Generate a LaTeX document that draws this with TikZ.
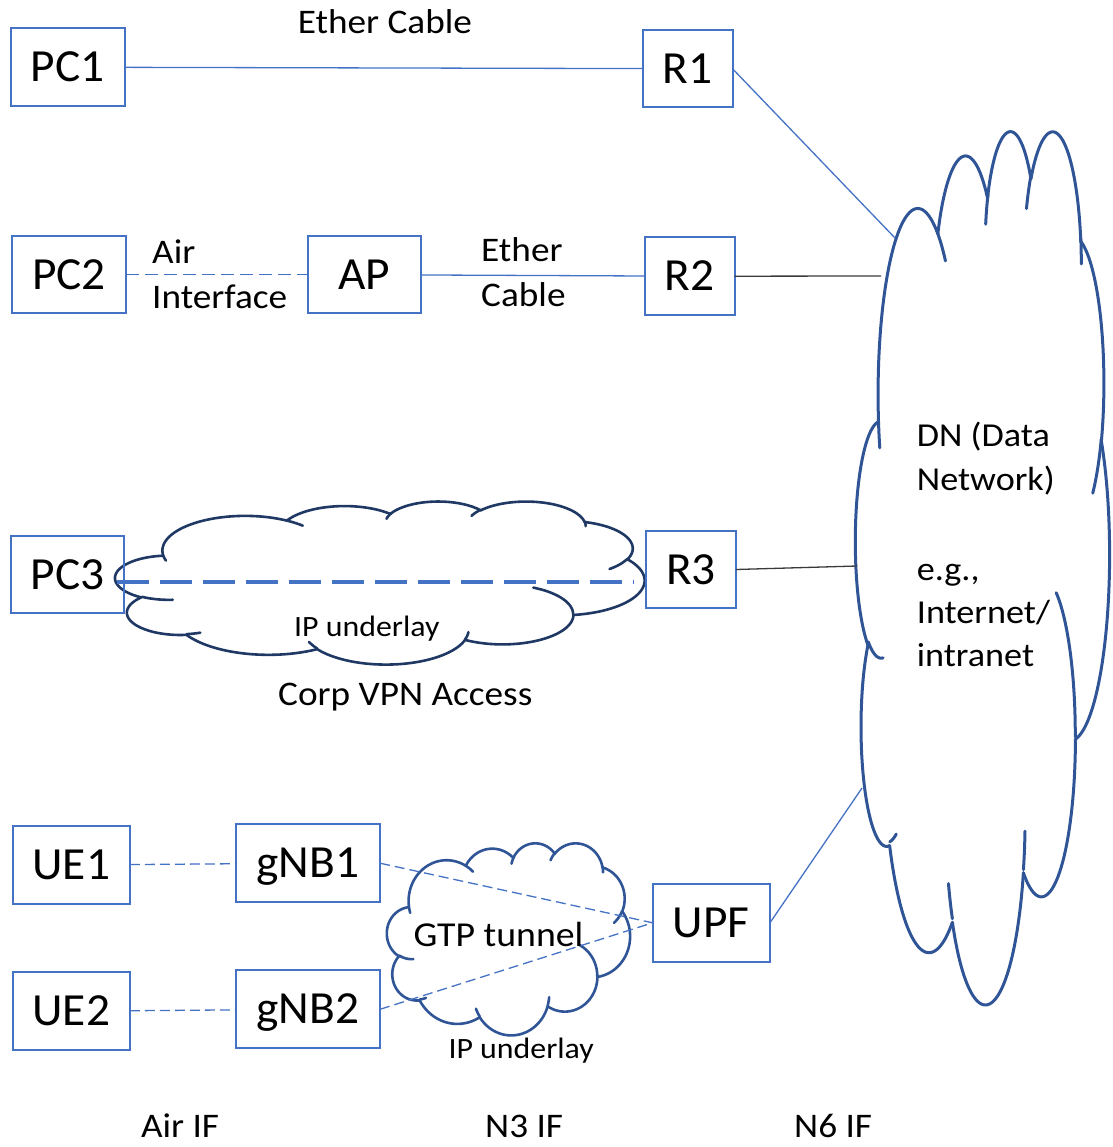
\documentclass[tikz,border=0pt]{standalone}
\usepackage{fontspec}
\setmainfont{Carlito}[FakeStretch=1.08]
\newfontfamily\boxfont{Carlito}[FakeStretch=1.03]
\definecolor{boxblue}{HTML}{4472C4}
\definecolor{cloudblue}{HTML}{2F5597}
\definecolor{navyblue}{HTML}{1F3864}
\definecolor{linegray}{HTML}{3A3A3A}

\newcommand\cldstart[2]{\xdef\cpx{#1}\xdef\cpy{#2}}
\newcommand\cldarc[4]{%
  \pgfmathsetmacro\cldts{atan2((#1)*sin(#3),(#2)*cos(#3))}%
  \pgfmathsetmacro\cldte{atan2((#1)*sin((#3)+(#4)),(#2)*cos((#3)+(#4)))}%
  \pgfmathsetmacro\cldd{\cldte-\cldts}%
  \pgfmathsetmacro\cldd{ifthenelse((#4)>0,ifthenelse(\cldd<0,\cldd+360,\cldd),ifthenelse(\cldd>0,\cldd-360,\cldd))}%
  \pgfmathsetmacro\cldcx{\cpx-(#1)*cos(\cldts)}%
  \pgfmathsetmacro\cldcy{\cpy-(#2)*sin(\cldts)}%
  \pgfmathsetmacro\cldtend{\cldts+\cldd}%
  \draw[cloudline] plot[domain=\cldts:\cldtend,samples=50,variable=\t]
     ({\cldcx+(#1)*cos(\t)},{\cldcy+(#2)*sin(\t)});%
  \pgfmathsetmacro\cldnx{\cldcx+(#1)*cos(\cldtend)}%
  \pgfmathsetmacro\cldny{\cldcy+(#2)*sin(\cldtend)}%
  \xdef\cpx{\cldnx}\xdef\cpy{\cldny}%
}
\newcommand\stdcloud{%
  \cldstart{39.00}{143.70}%
  \cldarc{67.53}{91.90}{-190.48748}{123.78053}%
  \cldarc{53.33}{72.67}{-144.10238}{89.94523}%
  \cldarc{43.65}{59.45}{-145.80792}{99.72302}%
  \cldarc{48.57}{65.95}{-130.98607}{117.24173}%
  \cldarc{53.33}{72.73}{-78.70888}{109.02692}%
  \cldarc{67.75}{92.20}{-46.26725}{130.269}%
  \cldarc{57.85}{78.67}{0.62502}{114.03333}%
  \cldarc{67.52}{92.15}{22.4516}{115.17255}%
  \cldarc{77.20}{105.43}{66.24263}{75.71102}%
  \cldarc{43.60}{59.18}{-274.94208}{146.73557}%
  \cldarc{43.45}{59.45}{-246.8285}{152.51885}%
  \cldstart{46.93}{261.77}\cldarc{43.45}{59.45}{86.742}{26.4295}%
  \cldstart{69.28}{348.99}\cldarc{43.60}{59.18}{73.61047}{11.44747}%
  \cldstart{164.78}{390.90}\cldarc{67.52}{92.15}{137.62415}{14.0811}%
  \cldstart{288.27}{347.51}\cldarc{67.52}{92.15}{6.45327}{15.99835}%
  \cldstart{341.29}{229.54}\cldarc{57.85}{78.67}{-70.29235}{70.91737}%
  \cldstart{417.98}{153.54}\cldarc{53.33}{72.73}{30.31803}{27.7515}%
  \cldstart{383.24}{54.26}\cldarc{48.57}{65.95}{-13.74433}{14.8589}%
  \cldstart{290.78}{39.52}\cldarc{48.57}{65.95}{-149.18145}{18.19537}%
  \cldstart{221.41}{47.20}\cldarc{43.65}{59.45}{-163.49427}{19.00285}%
  \cldstart{140.00}{51.92}\cldarc{67.53}{91.90}{-66.70695}{12.31935}%
  \cldstart{41.27}{157.89}\cldarc{67.53}{91.90}{157.65435}{11.85817}%
}

\begin{document}
\begin{tikzpicture}[x=1pt,y=-1pt,
  netbox/.style={draw=boxblue, line width=2pt, inner sep=0pt, outer sep=0pt,
    font=\boxfont\fontsize{46}{55}\selectfont, text height=29pt, text depth=0pt},
  lbl/.style={inner sep=0pt, anchor=base west, font=\fontsize{34.5}{41}\selectfont},
  conn/.style={draw=boxblue, line width=1.3pt},
  grayconn/.style={draw=linegray, line width=1.3pt},
  dashthin/.style={dash pattern=on 10pt off 5pt},
  vpnline/.style={draw=boxblue, line width=4pt, dash pattern=on 32pt off 11pt},
  cloudline/.style={draw=cloudblue, line width=3pt, line cap=round}]
\useasboundingbox (0,0) rectangle (1112,1147);

% clouds
\begin{scope}[shift={(855.5,128.8)}, xscale=254/432, yscale=873/432]
  \stdcloud
\end{scope}
\begin{scope}[shift={(115.4,501)}, xscale=529/432, yscale=163/432,
  cloudline/.style={draw=navyblue, line width=2.6pt, line cap=round}]
  \stdcloud
\end{scope}
\begin{scope}[shift={(387,842.7)}, xscale=243/432, yscale=192/432,
  cloudline/.style={draw=cloudblue, line width=2.6pt, line cap=round}]
  \stdcloud
\end{scope}

% boxes
\node[netbox, minimum width=114pt, minimum height=77.7pt] (pc1) at (67.5,67.2) {PC1};
\node[netbox, minimum width=90pt, minimum height=77.3pt] (r1) at (687.5,68.7) {R1};
\node[netbox, minimum width=114pt, minimum height=77.3pt] (pc2) at (69,274.7) {PC2};
\node[netbox, minimum width=113.3pt, minimum height=77.3pt] (ap) at (364.3,274.7) {AP};
\node[netbox, minimum width=90pt, minimum height=77.7pt] (r2) at (689.5,276.2) {R2};
\node[netbox, minimum width=113.3pt, minimum height=77.6pt] (pc3) at (67.7,574.5) {PC3};
\node[netbox, minimum width=90pt, minimum height=77.6pt] (r3) at (690.9,569.5) {R3};
\node[netbox, minimum width=117.3pt, minimum height=78pt] (ue1) at (71.3,865) {UE1};
\node[netbox, minimum width=144.3pt, minimum height=77.7pt] (gnb1) at (307.9,863.2) {gNB1};
\node[netbox, minimum width=117.3pt, minimum height=77.7pt] (ue2) at (71.3,1011.2) {UE2};
\node[netbox, minimum width=144.3pt, minimum height=78pt] (gnb2) at (307.9,1009.3) {gNB2};
\node[netbox, minimum width=117.3pt, minimum height=77.7pt] (upf) at (711.3,922.8) {UPF};

% cloud contact points
\coordinate (dn1) at (895,238);
\coordinate (dn2) at (881,276);
\coordinate (dn3) at (857,566);
\coordinate (dn4) at (862,788);
\coordinate (vpnA) at (116.7,582.3);
\coordinate (vpnB) at (634,582.3);

% connectors
\draw[conn] (pc1) -- (r1);
\draw[conn, dash pattern=on 13pt off 6pt] (pc2) -- (ap);
\draw[conn] (ap) -- (r2);
\draw[conn] (r1.east) -- (dn1);
\draw[grayconn] (r2.east) -- (dn2);
\draw[grayconn] (r3.east) -- (dn3);
\draw[conn] (upf.east) -- (dn4);
\draw[vpnline] (vpnA) -- (vpnB);
\draw[conn, dashthin] (ue1) -- (gnb1);
\draw[conn, dashthin] (ue2) -- (gnb2);
\draw[conn, dashthin] (gnb1.east) -- (upf.west);
\draw[conn, dashthin] (gnb2.east) -- (upf.west);

% labels
\node[lbl] (lblEther1) at (297.6,33.3) {Ether Cable};
\node[lbl] (lblAir1) at (152,263.3) {Air};
\node[lbl] (lblAir2) at (152,308.3) {Interface};
\node[lbl] (lblEther2) at (481,261.7) {Ether};
\node[lbl] (lblCable2) at (481,306.7) {Cable};
\node[lbl, font=\fontsize{33.5}{40}\selectfont] (dnA) at (916.7,446.7) {DN (Data};
\node[lbl, font=\fontsize{33.5}{40}\selectfont] (dnB) at (916.7,490) {Network)};
\node[lbl, font=\fontsize{33.5}{40}\selectfont] (dnC) at (916.7,580) {e.g.,};
\node[lbl, font=\fontsize{33.5}{40}\selectfont] (dnD) at (916.7,623.3) {Internet/};
\node[lbl, font=\fontsize{33.5}{40}\selectfont] (dnE) at (916.7,666.7) {intranet};
\node[lbl, font=\fontsize{29.5}{35}\selectfont] (ipu1) at (294,636.7) {IP underlay};
\node[lbl] (corp) at (278,705) {Corp VPN Access};
\node[lbl, font=\fontsize{35}{42}\selectfont] (gtp) at (413.3,946.7) {GTP tunnel};
\node[lbl, font=\fontsize{29.5}{35}\selectfont] (ipu2) at (448.3,1058.3) {IP underlay};
\node[lbl] (ifA) at (140.8,1137.7) {Air IF};
\node[lbl] (ifB) at (485,1137.7) {N3 IF};
\node[lbl] (ifC) at (794,1137.7) {N6 IF};
\end{tikzpicture}
\end{document}
